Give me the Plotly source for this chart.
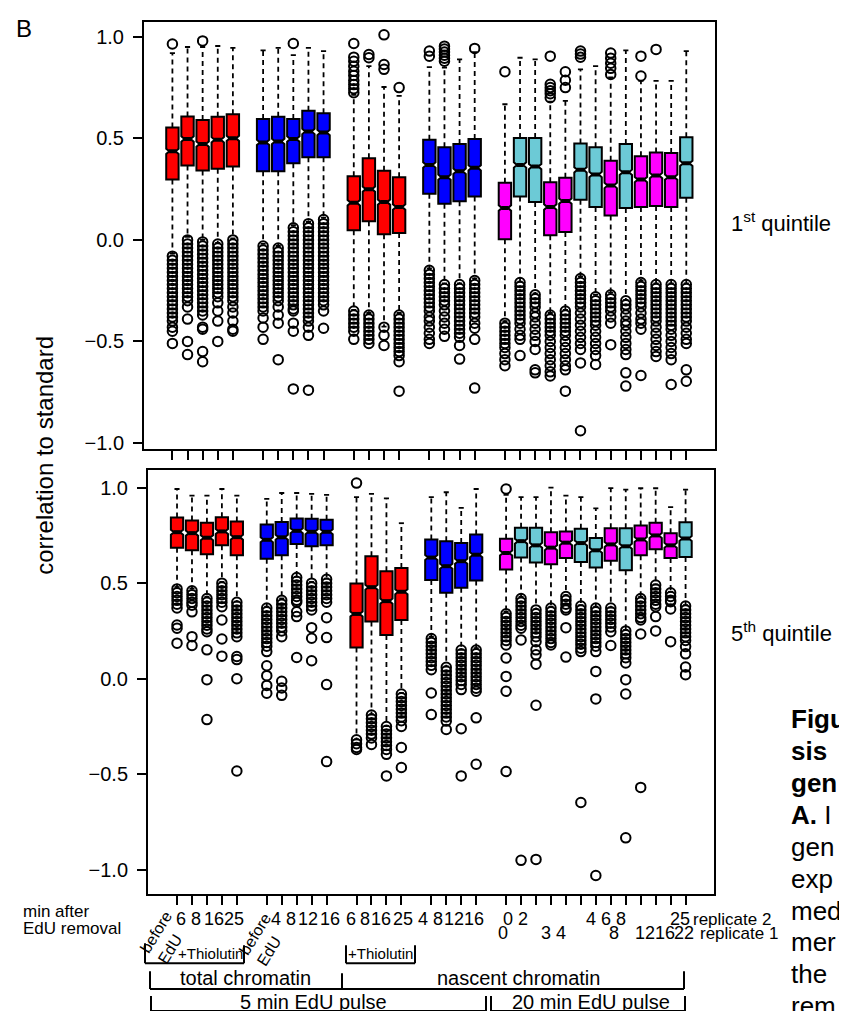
import plotly.graph_objects as go

W, H = 847, 1011

# ---------------- data ----------------
positions = [1, 2, 3, 4, 5, 7, 8, 9, 10, 11, 13, 14, 15, 16, 18, 19, 20, 21,
             23, 24, 25, 26, 27, 28, 29, 30, 31, 32, 33, 34, 35]
box_colour = (["R"] * 5 + ["B"] * 5 + ["R"] * 4 + ["B"] * 4 +
              ["M", "C", "C", "M", "M", "C", "C", "M", "C", "M", "M", "M", "C"])

# 1st quintile (top panel)
q1_top = [.297, .366, .342, .350, .361, .338, .338, .377, .407, .407,
          .047, .092, .028, .034, .227, .178, .190, .214,
          .003, .214, .186, .023, .039, .198, .162, .120, .157, .162, .167, .162, .207]
med_top = [.436, .497, .472, .493, .500, .480, .485, .497, .534, .529,
           .183, .250, .186, .162, .369, .309, .338, .355,
           .157, .369, .361, .162, .191, .345, .322, .268, .333, .297, .317, .309, .377]
q3_top = [.554, .608, .590, .606, .619, .595, .606, .595, .636, .624,
          .314, .402, .341, .309, .493, .456, .472, .497,
          .281, .502, .502, .284, .306, .475, .456, .390, .472, .412, .431, .428, .505]
lo_top = [-.067, .015, 0.0, -.015, .007, -.020, -.030, .072, .088, .110,
          -.345, -.360, -.427, -.360, -.140, -.214, -.214, -.190,
          -.400, -.206, -.263, -.360, -.345, -.180, -.270, -.260, -.296, -.200, -.214, -.214, -.214]
hi_top = [.920, .950, .950, .955, .946, .933, .946, .910, .946, .930,
          .714, .856, .753, .709, .851, .848, .889, .925,
          .668, .897, .889, .681, .685, .840, .856, .800, .933, .783, .783, .783, .930]
out_top = [
    [.965, -.08, -.10, -.12, -.14, -.16, -.18, -.20, -.22, -.24, -.26, -.28, -.30, -.32, -.34, -.36, -.38, -.40, -.43, -.45, -.51],
    [0.0, -.02, -.04, -.06, -.08, -.10, -.12, -.14, -.16, -.18, -.20, -.22, -.24, -.26, -.28, -.30, -.33, -.39, -.50, -.565],
    [.98, -.01, -.03, -.05, -.07, -.09, -.11, -.13, -.15, -.17, -.19, -.21, -.23, -.25, -.27, -.29, -.31, -.33, -.35, -.37, -.43, -.44, -.55, -.60],
    [-.02, -.04, -.06, -.08, -.10, -.12, -.14, -.16, -.18, -.20, -.22, -.24, -.26, -.28, -.31, -.35, -.40, -.50],
    [0.0, -.02, -.04, -.06, -.08, -.10, -.12, -.14, -.16, -.18, -.20, -.22, -.24, -.26, -.28, -.30, -.33, -.36, -.40, -.44, -.45],
    [-.03, -.05, -.07, -.09, -.11, -.13, -.15, -.17, -.19, -.21, -.23, -.25, -.27, -.29, -.31, -.33, -.35, -.385, -.43, -.49],
    [-.04, -.06, -.08, -.10, -.12, -.14, -.16, -.18, -.20, -.22, -.24, -.26, -.28, -.30, -.33, -.37, -.41, -.59],
    [.967, .06, .04, .02, 0.0, -.02, -.04, -.06, -.08, -.10, -.12, -.14, -.16, -.18, -.20, -.22, -.24, -.26, -.28, -.30, -.32, -.34, -.35, -.41, -.45, -.734],
    [.08, .06, .04, .02, 0.0, -.02, -.04, -.06, -.08, -.10, -.12, -.14, -.16, -.18, -.20, -.22, -.24, -.26, -.28, -.30, -.32, -.34, -.36, -.38, -.40, -.43, -.47, -.74],
    [.10, .08, .06, .04, .02, 0.0, -.02, -.04, -.06, -.08, -.10, -.12, -.14, -.16, -.18, -.20, -.22, -.24, -.26, -.28, -.30, -.32, -.35, -.435],
    [.967, .90, .88, .855, .83, .81, .785, .765, .745, .725, -.35, -.37, -.39, -.41, -.43, -.45, -.49],
    [.913, .897, -.37, -.39, -.41, -.43, -.45, -.47, -.49, -.51],
    [1.01, .864, .84, -.43, -.47, -.52],
    [.75, -.37, -.39, -.41, -.43, -.45, -.47, -.49, -.51, -.53, -.55, -.57, -.60, -.745],
    [.93, .905, -.15, -.17, -.19, -.21, -.23, -.25, -.27, -.29, -.31, -.33, -.35, -.38, -.40, -.43, -.46, -.49, -.51],
    [.954, .94, .925, .91, .895, .88, -.22, -.24, -.26, -.28, -.30, -.32, -.35, -.38, -.41, -.44, -.475],
    [-.22, -.24, -.26, -.28, -.30, -.32, -.34, -.36, -.38, -.40, -.42, -.44, -.46, -.48, -.52, -.587],
    [.943, -.20, -.22, -.24, -.26, -.28, -.30, -.32, -.34, -.36, -.38, -.41, -.435, -.49, -.73],
    [.828, -.41, -.43, -.45, -.47, -.49, -.51, -.53, -.56, -.59, -.62],
    [-.21, -.23, -.25, -.27, -.29, -.31, -.33, -.35, -.37, -.39, -.41, -.44, -.47, -.49, -.57],
    [-.27, -.29, -.31, -.33, -.36, -.38, -.41, -.44, -.47, -.50, -.54, -.64, -.655],
    [.905, .766, .75, .735, .72, .70, -.37, -.39, -.41, -.43, -.45, -.47, -.50, -.53, -.56, -.59, -.62, -.65, -.67],
    [.828, .786, .75, -.35, -.37, -.39, -.41, -.43, -.45, -.47, -.50, -.53, -.56, -.59, -.62, -.64, -.745],
    [.93, .915, .90, -.19, -.21, -.23, -.25, -.27, -.29, -.31, -.33, -.36, -.39, -.42, -.45, -.48, -.51, -.54, -.606, -.94],
    [-.28, -.30, -.32, -.34, -.36, -.38, -.40, -.42, -.45, -.48, -.51, -.54, -.57, -.614],
    [.92, .895, .87, .845, .815, -.27, -.29, -.31, -.33, -.35, -.38, -.41, -.516],
    [-.30, -.32, -.34, -.37, -.40, -.42, -.45, -.48, -.51, -.54, -.565, -.655, -.72],
    [.905, .807, -.21, -.23, -.25, -.27, -.29, -.31, -.33, -.36, -.39, -.41, -.44, -.668],
    [.938, -.22, -.24, -.26, -.28, -.30, -.32, -.34, -.36, -.38, -.40, -.43, -.46, -.49, -.52, -.55, -.574],
    [-.22, -.24, -.26, -.28, -.30, -.32, -.34, -.36, -.38, -.40, -.42, -.44, -.47, -.50, -.53, -.56, -.59, -.712],
    [-.22, -.24, -.26, -.28, -.30, -.32, -.34, -.36, -.38, -.40, -.43, -.46, -.49, -.51, -.64, -.696],
]

# 5th quintile (bottom panel)
q1_bot = [.686, .672, .651, .698, .646, .628, .646, .705, .693, .698,
          .163, .299, .229, .307, .516, .450, .476, .514,
          .571, .634, .608, .599, .632, .611, .582, .618, .568, .646, .677, .632, .637]
med_bot = [.767, .762, .738, .771, .741, .727, .740, .774, .769, .769,
           .339, .479, .406, .455, .634, .589, .615, .649,
           .658, .720, .698, .686, .712, .710, .672, .703, .693, .729, .750, .698, .734]
q3_bot = [.844, .828, .816, .845, .823, .807, .820, .839, .837, .832,
          .498, .641, .5625, .580, .729, .719, .710, .755,
          .733, .790, .790, .767, .771, .785, .736, .788, .788, .802, .816, .762, .819]
lo_bot = [.480, .472, .429, .507, .403, .377, .420, .533, .507, .524,
          -.318, -.188, -.248, -.075, .220, .064, .151, .160,
          .351, .429, .365, .377, .4375, .385, .377, .372, .255, .429, .493, .455, .385]
hi_bot = [.993, .958, .958, .993, .958, .941, .972, .972, .967, .962,
          .950, .967, .944, .814, .950, .976, .894, .993,
          .962, .950, .950, 1.0, .958, .950, .892, .998, .990, .997, .997, .898, .990]
out_bot = [
    [.47, .45, .43, .41, .39, .37, .281, .264, .186],
    [.46, .44, .42, .40, .385, .35, .22, .174],
    [.42, .40, .38, .36, .34, .32, .30, .28, .26, .246, .151, -.005, -.214],
    [.50, .48, .46, .44, .42, .40, .377, .307, .208, .118],
    [.40, .38, .36, .34, .32, .30, .28, .26, .24, .22, .116, .10, 0.0, -.483],
    [.37, .35, .33, .31, .29, .27, .25, .23, .21, .19, .17, .142, .068, .016, -.035, -.076],
    [.41, .39, .37, .35, .33, .31, .29, .27, .25, .22, -.014, -.049, -.087],
    [.53, .51, .49, .47, .45, .43, .41, .40, .35, .325, .111],
    [.50, .48, .46, .44, .42, .40, .38, .36, .267, .212, .094],
    [.52, .50, .48, .46, .44, .42, .40, .319, .215, -.031, -.434],
    [1.024, -.32, -.34, -.36, -.37],
    [-.19, -.21, -.23, -.25, -.27, -.29, -.31, -.344],
    [-.25, -.27, -.29, -.31, -.33, -.35, -.37, -.396, -.509],
    [-.08, -.10, -.12, -.14, -.16, -.18, -.20, -.22, -.25, -.36, -.465],
    [.21, .19, .17, .15, .13, .11, .09, .07, .047, -.075, -.188],
    [.06, .04, .02, 0.0, -.02, -.04, -.06, -.08, -.10, -.12, -.14, -.16, -.18, -.20, -.222, -.266],
    [.15, .13, .11, .09, .07, .05, .03, .01, -.01, -.03, -.057, -.262, -.509],
    [.15, .13, .11, .09, .07, .05, .03, .01, -.01, -.03, -.05, -.066, -.205, -.448],
    [.993, .34, .32, .30, .28, .26, .24, .22, .20, .177, .108, .012, -.066, -.486],
    [.42, .40, .38, .36, .34, .32, .30, .28, .264, .203, -.951],
    [.36, .34, .32, .30, .28, .26, .24, .22, .194, .151, .125, .076, -.139, -.946],
    [.37, .35, .33, .31, .29, .27, .25, .23, .21, .19, .177],
    [.43, .41, .39, .37, .36, .267, .113],
    [.38, .36, .34, .32, .30, .28, .26, .24, .22, .20, .18, .16, .142, -.648],
    [.37, .35, .33, .31, .29, .27, .25, .23, .21, .19, .17, .142, .038, -.106, -1.03],
    [.37, .35, .33, .31, .29, .27, .246, .174],
    [.25, .23, .21, .19, .17, .15, .13, .11, .082, -.005, -.08, -.833],
    [.42, .40, .38, .36, .34, .32, .307, .234, -.569],
    [.49, .47, .45, .43, .41, .39, .377, .325, .25],
    [.45, .43, .41, .403, .365, .194],
    [.38, .36, .34, .32, .30, .28, .26, .24, .22, .20, .168, .13, .061, .021],
]

y_tickvals = [-1.0, -0.5, 0.0, 0.5, 1.0]
y_ticktext = ["\u22121.0", "\u22120.5", "0.0", "0.5", "1.0"]

lab_g1 = ["6", "8", "16", "25"]
lab_g2 = ["4", "8", "12", "16"]
lab_g3 = ["6", "8", "16", "25"]
lab_g4 = ["4", "8", "12", "16"]
lab_rep2 = ["0", "2", "4", "6", "8", "25"]
lab_rep1 = ["0", "3", "4", "8", "12", "16", "22"]
caption_lines = ["<b>Figu</b>", "<b>sis</b>", "<b>gen</b>", "<b>A.</b> I", "gen",
                 "exp", "med", "mer", "the", "rem"]

# ---------------- styling ----------------
FONT = "Liberation Sans, Arial, Helvetica, sans-serif"
COLORS = {"R": "#FF0000", "B": "#0000FF", "M": "#FF00FF", "C": "#6CCAD6"}
NOTCH = 0.013


def px(x):
    return x / W


def py(y):
    return 1 - y / H


fig = go.Figure()

panels = [
    dict(q1=q1_top, med=med_top, q3=q3_top, lo=lo_top, hi=hi_top, out=out_top, xa="x", ya="y"),
    dict(q1=q1_bot, med=med_bot, q3=q3_bot, lo=lo_bot, hi=hi_bot, out=out_bot, xa="x2", ya="y2"),
]

for P in panels:
    wx, wy, cx, cy, mx, my, ox, oy = [], [], [], [], [], [], [], []
    for i, p in enumerate(positions):
        wx += [p, p, None, p, p, None]
        wy += [P["q3"][i], P["hi"][i], None, P["q1"][i], P["lo"][i], None]
        cx += [p - 0.17, p + 0.17, None, p - 0.17, p + 0.17, None]
        cy += [P["hi"][i], P["hi"][i], None, P["lo"][i], P["lo"][i], None]
        mx += [p - 0.24, p + 0.24, None]
        my += [P["med"][i], P["med"][i], None]
        for v in P["out"][i]:
            ox.append(p)
            oy.append(v)
    fig.add_trace(go.Scatter(x=wx, y=wy, mode="lines", xaxis=P["xa"], yaxis=P["ya"],
                             line=dict(color="black", width=1.8, dash="5px,4px"),
                             hoverinfo="skip"))
    fig.add_trace(go.Scatter(x=cx, y=cy, mode="lines", xaxis=P["xa"], yaxis=P["ya"],
                             line=dict(color="black", width=1.8), hoverinfo="skip"))
    for key, col in COLORS.items():
        idx = [i for i, c in enumerate(box_colour) if c == key]
        fig.add_trace(go.Box(
            x=[positions[i] for i in idx],
            q1=[P["q1"][i] for i in idx],
            median=[P["med"][i] for i in idx],
            q3=[P["q3"][i] for i in idx],
            lowerfence=[P["q1"][i] for i in idx],
            upperfence=[P["q3"][i] for i in idx],
            notched=True, notchspan=[NOTCH] * len(idx), notchwidth=0.25,
            width=0.82, fillcolor=col, line=dict(color="black", width=2),
            boxpoints=False, xaxis=P["xa"], yaxis=P["ya"], hoverinfo="skip"))
    fig.add_trace(go.Scatter(x=mx, y=my, mode="lines", xaxis=P["xa"], yaxis=P["ya"],
                             line=dict(color="black", width=4), hoverinfo="skip"))
    fig.add_trace(go.Scatter(x=ox, y=oy, mode="markers", xaxis=P["xa"], yaxis=P["ya"],
                             marker=dict(symbol="circle-open", size=9.5, color="black",
                                         line=dict(width=2, color="black")),
                             hoverinfo="skip"))

xcommon = dict(tickvals=positions, showticklabels=False, ticks="outside", ticklen=9,
               tickwidth=1.7, tickcolor="black", showline=True, mirror=True,
               linecolor="black", linewidth=2, showgrid=False, zeroline=False)
ycommon = dict(tickvals=y_tickvals, ticktext=y_ticktext, ticks="outside", ticklen=9,
               tickwidth=1.7, tickcolor="black", showline=True, mirror=True,
               linecolor="black", linewidth=2, showgrid=False, zeroline=False,
               tickfont=dict(size=20, family=FONT, color="black"), ticklabelstandoff=5)

fig.update_layout(
    width=W, height=H, autosize=False,
    margin=dict(l=0, r=0, t=0, b=0),
    paper_bgcolor="white", plot_bgcolor="white",
    showlegend=False, boxmode="overlay",
    font=dict(family=FONT, color="black"),
    xaxis=dict(domain=[px(136), px(707)], range=[-0.88, 36.9], anchor="y", **xcommon),
    yaxis=dict(domain=[py(443), py(14)], range=[-1.029, 1.0735], anchor="x", **ycommon),
    xaxis2=dict(domain=[px(140), px(706)], range=[-0.94, 36.9], anchor="y2", **xcommon),
    yaxis2=dict(domain=[py(890), py(464)], range=[-1.125, 1.094], anchor="x2", **ycommon),
)

ann = []


def add_text(text, x, y, size, xanchor="center", **kw):
    ann.append(dict(text=text, x=px(x), y=py(y), xref="paper", yref="paper",
                    showarrow=False, xanchor=xanchor, yanchor="middle",
                    font=dict(size=size, family=FONT, color="black"), **kw))


add_text("B", 16, 21, 24)
add_text("correlation to standard", 37, 450, 24, textangle=-90)
add_text("1<sup>st</sup> quintile", 721, 215, 22, xanchor="left")
add_text("5<sup>th</sup> quintile", 721, 627, 22, xanchor="left")

for labs, xs in [(lab_g1, [173, 188, 206, 226]), (lab_g2, [268, 283, 300, 322]),
                 (lab_g3, [343, 357, 373, 395]), (lab_g4, [415, 430, 446, 466]),
                 (lab_rep2, [500, 515, 583, 598, 613, 672])]:
    for t, x in zip(labs, xs):
        add_text(t, x, 916, 18)
for t, x in zip(lab_rep1, [495, 538, 553, 606, 637, 657, 676]):
    add_text(t, x, 930, 18)
add_text("replicate 2", 683, 916, 17, xanchor="left")
add_text("replicate 1", 690, 930, 17, xanchor="left")
add_text("min after", 13, 908, 17, xanchor="left")
add_text("EdU removal", 13, 925, 17, xanchor="left")
add_text("before<br>EdU", 157, 935, 16, textangle=-58, align="left")
add_text("before<br>EdU", 256, 937, 16, textangle=-58, align="left")
add_text("+Thiolutin", 202, 950, 15)
add_text("+Thiolutin", 372, 950, 15)
add_text("total chromatin", 237, 975, 20)
add_text("nascent chromatin", 510, 975, 20)
add_text("5 min EdU pulse", 305, 999, 20)
add_text("20 min EdU pulse", 583, 999, 20)

for k, t in enumerate(caption_lines):
    add_text(t, 781, 715 + 32 * k, 26, xanchor="left")

segments = [
    (137, 940, 137, 960), (137, 960, 236, 960), (236, 960, 236, 942),
    (338, 942, 338, 960), (338, 960, 407, 960), (407, 960, 407, 942),
    (142, 968, 142, 986), (142, 986, 676, 986), (676, 986, 676, 968), (334, 970, 334, 986),
    (143, 993, 143, 1008), (143, 1008, 478, 1008), (478, 1008, 478, 993),
    (483, 993, 483, 1008), (483, 1008, 677, 1008), (677, 1008, 677, 993),
]
shapes = [dict(type="line", xref="paper", yref="paper", x0=px(a), y0=py(b), x1=px(c), y1=py(d),
               line=dict(color="black", width=2)) for a, b, c, d in segments]

fig.update_layout(annotations=ann, shapes=shapes)
fig.write_html("out.html")
